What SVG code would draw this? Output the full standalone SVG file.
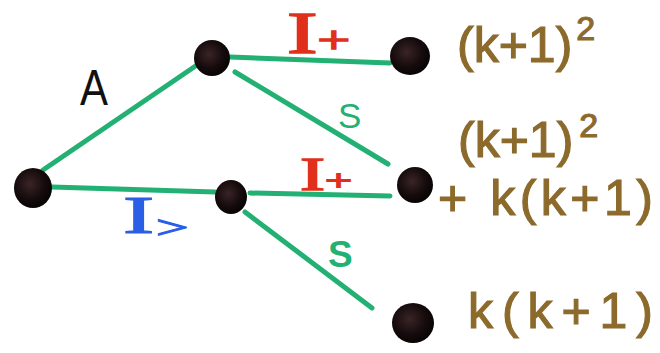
<svg xmlns="http://www.w3.org/2000/svg" width="660" height="353" viewBox="0 0 660 353">
<defs>
<radialGradient id="dot" cx="0.42" cy="0.4" r="0.65">
<stop offset="0" stop-color="#3a2426"/>
<stop offset="0.6" stop-color="#150b0c"/>
<stop offset="1" stop-color="#050303"/>
</radialGradient>
<style>
.edge{stroke:#22b073;stroke-width:5;stroke-linecap:round;fill:none}
.node{fill:url(#dot)}
.brown{font-family:"Liberation Sans",Arial,sans-serif;font-size:50px;fill:#8c6a2c;stroke:#8c6a2c;stroke-width:1.2}
.red{font-family:"Liberation Serif",serif;fill:#e0301c;stroke:#e0301c;stroke-width:1.5}
.blue{font-family:"Liberation Serif",serif;fill:#2b5ee6;stroke:#2b5ee6;stroke-width:1.2}
.green{font-family:"Liberation Sans",Arial,sans-serif;fill:#22b073}
.black{font-family:"Liberation Sans",Arial,sans-serif;fill:#111}
</style>
</defs>
<rect width="660" height="353" fill="#fff"/>
<g id="connectors">
<line class="edge" x1="43" y1="170" x2="197" y2="65"/>
<line class="edge" x1="230" y1="57" x2="390" y2="63"/>
<line class="edge" x1="235" y1="72" x2="388" y2="164"/>
<line class="edge" x1="52" y1="187" x2="215" y2="192"/>
<line class="edge" x1="250" y1="193" x2="390" y2="196"/>
<line class="edge" x1="245" y1="212" x2="372" y2="308"/>
</g>
<g id="edge-labels">
<text class="black" x="80" y="105" font-size="50" textLength="28" lengthAdjust="spacingAndGlyphs">A</text>
<text class="red" transform="translate(287,53) scale(1.7,1.1)" font-size="54">I<tspan font-size="34" dx="0">+</tspan></text>
<text class="green" x="338" y="128" font-size="35">S</text>
<text class="red" transform="translate(300,190) scale(1.6,1)" font-size="47">I<tspan font-size="30" dx="0">+</tspan></text>
<text class="blue" transform="translate(123,233) scale(1.8,1)" font-size="52">I<tspan font-size="32" dx="1" dy="5">&gt;</tspan></text>
<text class="green" x="328" y="267" font-size="37" font-weight="bold">S</text>
</g>
<g id="n-root"><ellipse class="node" cx="33" cy="188" rx="19" ry="20"/></g>
<g id="n-upper"><circle class="node" cx="212" cy="58" r="18"/></g>
<g id="n-lower"><ellipse class="node" cx="231" cy="197" rx="16" ry="17"/></g>
<g id="n-top">
<ellipse class="node" cx="410" cy="56" rx="20" ry="19"/>
<text class="brown" x="457" y="62">(k+1)<tspan font-size="34" dx="4" dy="-22">2</tspan></text>
</g>
<g id="n-mid">
<ellipse class="node" cx="415" cy="185" rx="18" ry="18"/>
<text class="brown" x="458" y="157">(k+1)<tspan font-size="34" dx="6" dy="-20">2</tspan></text>
<text class="brown" x="438" y="215" textLength="215" lengthAdjust="spacing">+ k(k+1)</text>
</g>
<g id="n-bottom">
<ellipse class="node" cx="413" cy="323" rx="21" ry="20"/>
<text class="brown" x="468" y="328" textLength="185" lengthAdjust="spacing">k(k+1)</text>
</g>
</svg>
